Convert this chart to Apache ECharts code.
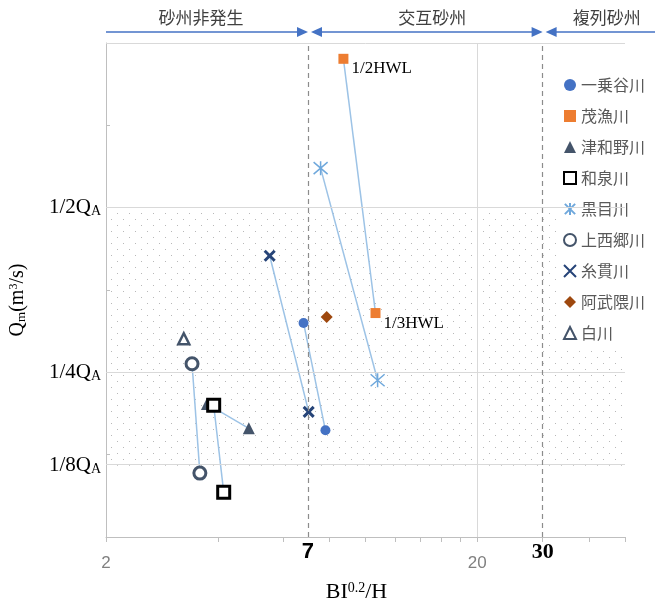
<!DOCTYPE html>
<html>
<head>
<meta charset="utf-8">
<script src="https://cdn.jsdelivr.net/npm/echarts@6/dist/echarts.min.js"></script>
<style>
  html, body { margin: 0; padding: 0; background: #fff; }
  #chart { width: 661px; height: 598px; }
</style>
</head>
<body>
<div id="chart"></div>
<script>
// x = BI^0.2/H (log axis), y = Qm in units of QA
const rivers = ['一乗谷川', '茂漁川', '津和野川', '和泉川', '黒目川', '上西郷川', '糸貫川', '阿武隈川', '白川']
const ichijodani = [[6.81, 0.325], [7.80, 0.162]]
const moiza = [[8.72, 0.726], [10.64, 0.340]]
const tsuwano = [[3.74, 0.202], [4.85, 0.165]]
const izumi = [[3.90, 0.200], [4.15, 0.068]]
const kurome = [[7.57, 0.560], [10.78, 0.238]]
const kamisaigo = [[3.41, 0.263], [3.58, 0.097]]
const itonuki = [[5.52, 0.427], [7.03, 0.190]]
const abukuma = [[7.86, 0.334]]
const shirakawa = [[3.24, 0.301]]
const riverData = [ichijodani, moiza, tsuwano, izumi, kurome, kamisaigo, itonuki, abukuma, shirakawa]
const pointLabels = ['1/2HWL', '1/3HWL'] // on 茂漁川

const xLabelValues = [2, 7, 20, 30]
const xTickValues = [2, 4, 6, 8, 10, 12, 14, 16, 18, 20, 30, 40, 50]
const yGridValues = [0.5, 0.25, 0.108]
const yGridLabels = ['1/2', '1/4', '1/8']
const regimes = ['砂州非発生', '交互砂州', '複列砂州']
const regimeBounds = [7, 30]

const serif = '"Liberation Serif", "Times New Roman", serif'
const cjk = '"Noto Sans CJK JP", sans-serif'

const markers = [
  { symbol: 'circle', symbolSize: 10, itemStyle: { color: '#4472C4' } },
  { symbol: 'rect', symbolSize: 10, itemStyle: { color: '#ED7D31' } },
  { symbol: 'triangle', symbolSize: 12, itemStyle: { color: '#44546A' } },
  { symbol: 'rect', symbolSize: 12, itemStyle: { color: '#fff', borderColor: '#000', borderWidth: 3 } },
  { symbol: 'path://M7,0L7,14M1,1L13,13M1,13L13,1', symbolSize: 14, itemStyle: { color: 'rgba(0,0,0,0)', borderColor: '#6FA8DC', borderWidth: 1.5 } },
  { symbol: 'circle', symbolSize: 12, itemStyle: { color: '#fff', borderColor: '#44546A', borderWidth: 3 } },
  { symbol: 'path://M0,0L10,10M0,10L10,0', symbolSize: 10, itemStyle: { color: 'rgba(0,0,0,0)', borderColor: '#264478', borderWidth: 3 } },
  { symbol: 'diamond', symbolSize: 12, itemStyle: { color: '#9E480E' } },
  { symbol: 'triangle', symbolSize: 11, itemStyle: { color: '#fff', borderColor: '#44546A', borderWidth: 2.5 } }
]

// staggered dotted fill for the shaded band
const pat = document.createElement('canvas')
pat.width = 12
pat.height = 12
const pc = pat.getContext('2d')
pc.fillStyle = '#b8b8b8'
pc.fillRect(3, 3, 1, 1)
pc.fillRect(9, 9, 1, 1)

const gray = '#d9d9d9'

const chart = echarts.init(document.getElementById('chart'))

const linkSeries = riverData
  .map((d, i) => ({ d, i }))
  .filter(o => o.d.length > 1)
  .map(o => ({
    name: rivers[o.i] + '_link',
    type: 'line',
    data: o.d,
    symbol: 'none',
    silent: true,
    z: 2,
    lineStyle: { color: '#9DC3E6', width: 1.5 }
  }))

const pointSeries = rivers.map((name, i) => ({
  name,
  type: 'scatter',
  z: 3,
  symbol: markers[i].symbol,
  symbolSize: markers[i].symbolSize,
  itemStyle: Object.assign({ opacity: 1 }, markers[i].itemStyle),
  data: riverData[i].map((p, j) => {
    if (name !== '茂漁川') return p
    return {
      value: p,
      label: {
        show: true,
        formatter: pointLabels[j],
        position: 'right',
        offset: [-2, 10],
        fontFamily: serif,
        fontSize: 17,
        color: '#000'
      }
    }
  })
}))

const option = {
  animation: false,
  grid: { left: 106, top: 43, right: 36, bottom: 61, outerBoundsMode: 'none' },
  legend: {
    orient: 'vertical',
    left: 557,
    top: 71,
    padding: [6, 4, 6, 6],
    backgroundColor: '#fff',
    data: rivers,
    itemWidth: 12,
    itemHeight: 12,
    itemGap: 15,
    itemStyle: { opacity: 1 },
    textStyle: { fontFamily: cjk, fontSize: 16, color: '#595959', lineHeight: 16 }
  },
  xAxis: {
    type: 'log',
    min: 2,
    max: 50,
    name: 'BI{sup|0.2}/H',
    nameLocation: 'middle',
    nameGap: 44,
    nameTextStyle: {
      fontFamily: serif,
      fontSize: 22,
      color: '#000',
      padding: [0, 0, 0, -18],
      rich: { sup: { fontFamily: serif, fontSize: 14, verticalAlign: 'top', color: '#000', padding: [0, 0, 8, 0] } }
    },
    axisLine: { show: true, lineStyle: { color: '#bfbfbf' } },
    axisTick: { show: true, length: 5, customValues: xTickValues, lineStyle: { color: '#bfbfbf' } },
    splitLine: { show: false },
    minorTick: { show: false },
    axisLabel: {
      customValues: xLabelValues,
      margin: 4,
      formatter: v => v === 7 ? '{b|7}' : v === 30 ? '{t|30}' : '{g|' + v + '}',
      rich: {
        g: { color: '#808080', fontSize: 17, fontFamily: '"Liberation Sans", sans-serif', padding: [14, 0, 0, 0] },
        b: { color: '#000', fontSize: 22, fontWeight: 'bold', fontFamily: '"Liberation Sans", sans-serif' },
        t: { color: '#000', fontSize: 22, fontWeight: 'bold', fontFamily: serif }
      }
    }
  },
  yAxis: {
    type: 'value',
    min: 0,
    max: 0.75,
    interval: 0.125,
    name: 'Q{sub|m}(m{sup|3}/s)',
    nameLocation: 'middle',
    nameGap: 78,
    nameRotate: 90,
    nameTextStyle: {
      fontFamily: serif,
      fontSize: 20,
      color: '#000',
      padding: [0, 20, 0, 0],
      rich: {
        sub: { fontFamily: serif, fontSize: 13, verticalAlign: 'bottom', color: '#000' },
        sup: { fontFamily: serif, fontSize: 12, verticalAlign: 'top', color: '#000' }
      }
    },
    axisLine: { show: true, lineStyle: { color: '#bfbfbf' } },
    axisTick: { show: true, inside: true, length: 4, lineStyle: { color: '#bfbfbf' } },
    splitLine: { show: false },
    axisLabel: {
      customValues: yGridValues,
      margin: 5,
      formatter: v => yGridLabels[yGridValues.indexOf(v)] + 'Q{s|A}',
      fontFamily: serif,
      fontSize: 21,
      color: '#000',
      rich: { s: { fontFamily: serif, fontSize: 14, verticalAlign: 'bottom', color: '#000', padding: [6, 0, 0, 0] } }
    }
  },
  series: [
    {
      name: 'frame',
      type: 'line',
      data: [],
      silent: true,
      z: 1,
      markArea: {
        silent: true,
        itemStyle: { color: { image: pat, repeat: 'repeat' } },
        data: [[{ xAxis: 2, yAxis: yGridValues[2] }, { xAxis: 50, yAxis: yGridValues[0] }]]
      },
      markLine: {
        silent: true,
        symbol: 'none',
        label: { show: false },
        lineStyle: { color: gray, width: 1, type: 'solid' },
        data: [
          ...yGridValues.map(v => ({ yAxis: v })),
          { yAxis: 0.75 },
          { xAxis: 20 },
          ...regimeBounds.map(v => ({ xAxis: v, lineStyle: { color: '#8c8c8c', type: [5, 4], width: 1.2 } }))
        ]
      }
    },
    ...linkSeries,
    ...pointSeries
  ]
}

chart.setOption(option)

// regime band above the plot
const x2 = chart.convertToPixel({ xAxisIndex: 0 }, 2)
const x7 = chart.convertToPixel({ xAxisIndex: 0 }, regimeBounds[0])
const x30 = chart.convertToPixel({ xAxisIndex: 0 }, regimeBounds[1])
const bandY = 32
const blue = '#4472C4'
const arrow = (tip, dir) => ({
  type: 'polygon',
  shape: { points: [[tip, bandY], [tip - dir * 11, bandY - 5], [tip - dir * 11, bandY + 5]] },
  style: { fill: blue }
})
const seg = (a, b) => ({ type: 'line', shape: { x1: a, y1: bandY, x2: b, y2: bandY }, style: { stroke: blue, lineWidth: 1.5 } })
const label = (text, x) => ({
  type: 'text',
  x, y: 18,
  style: { text, fontFamily: cjk, fontSize: 17, fill: '#404040', align: 'center', verticalAlign: 'middle' }
})

chart.setOption({
  graphic: [
    seg(x2, x7 - 6), arrow(x7, 1),
    seg(x7 + 8, x30 - 6), arrow(x7 + 3, -1), arrow(x30, 1),
    seg(x30 + 8, 655), arrow(x30 + 3, -1),
    label(regimes[0], (x2 + x7) / 2 - 6),
    label(regimes[1], (x7 + x30) / 2 + 7),
    label(regimes[2], (x30 + 655) / 2 + 8)
  ]
})
</script>
</body>
</html>
